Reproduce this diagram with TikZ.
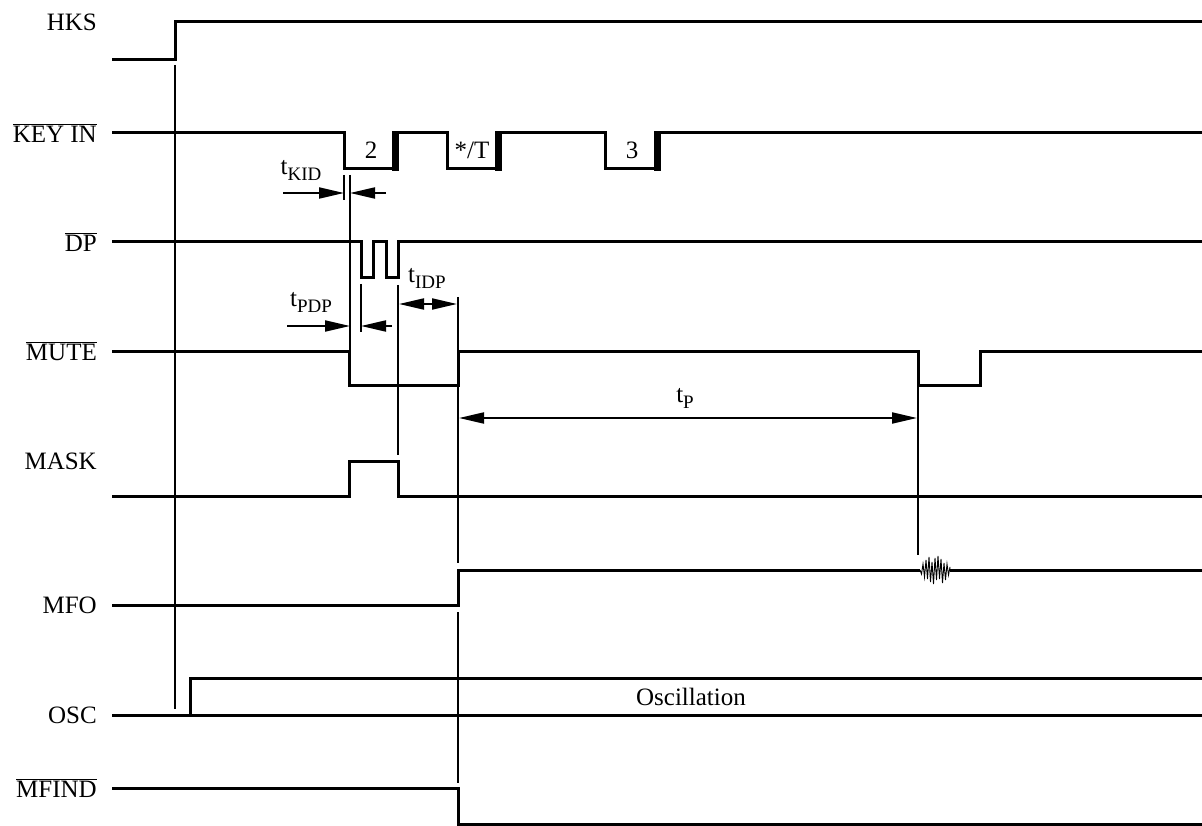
\documentclass[tikz,border=0pt]{standalone}
\usepackage{fontspec}
\setmainfont{Liberation Serif}
\usetikzlibrary{arrows.meta}

\newcommand{\ovl}[1]{$\overline{\mbox{#1}}$}
\newcommand{\tsub}[1]{t\raisebox{-6pt}{\fontsize{19pt}{20pt}\selectfont #1}}

\begin{document}
\begin{tikzpicture}[x=1pt,y=-1pt,>={Triangle[length=25pt,width=11pt]},
  font=\fontsize{25pt}{30pt}\selectfont,
  signal/.style={line width=3pt,line join=miter},
  guide/.style={line width=2pt},
  sig/.style={anchor=east,inner sep=0pt}]

\useasboundingbox (0,0) rectangle (1202,826);

% signal names
\node[sig] (lblHKS) at (97,22) {HKS};
\node[sig] (lblKEY) at (97,133) {\ovl{KEY IN}};
\node[sig] (lblDP) at (97,242) {\ovl{DP}};
\node[sig] (lblMUTE) at (97,351) {\ovl{MUTE}};
\node[sig] (lblMASK) at (97,461) {MASK};
\node[sig] (lblMFO) at (97,605) {MFO};
\node[sig] (lblOSC) at (97,715) {OSC};
\node[sig] (lblMFIND) at (97,788) {\ovl{MFIND}};

% waveforms
\draw[signal] (112,60) -- (175,60) -- (175,22) -- (1202,22);
\draw[signal] (112,133) -- (344,133) -- (344,169) -- (396,169) -- (396,133)
  -- (447,133) -- (447,169) -- (499,169) -- (499,133)
  -- (605,133) -- (605,169) -- (658,169) -- (658,133) -- (1202,133);
\foreach \k in {396,499,658}
  \fill (\k-4,131) rectangle (\k+3,171);
\node (key2) at (371,150) {2};
\node (keyT) at (472,150) {*/T};
\node (key3) at (632,150) {3};

\draw[signal] (112,242) -- (361,242) -- (361,278) -- (373,278) -- (373,242)
  -- (386,242) -- (386,278) -- (398,278) -- (398,242) -- (1202,242);
\draw[signal] (112,351) -- (349,351) -- (349,385) -- (458,385) -- (458,351)
  -- (918,351) -- (918,385) -- (980,385) -- (980,351) -- (1202,351);
\draw[signal] (112,496) -- (349,496) -- (349,461) -- (398,461) -- (398,496) -- (1202,496);
\draw[signal] (112,605) -- (458,605) -- (458,570) -- (920,570);
\draw[signal] (950,570) -- (1202,570);
\draw[line width=0.9pt] (920,570) \foreach \dx/\dy in {1.5/4,3/-6,4.5/7,6/-10,7.5/9,9/-13,10.5/12,12/-8,13.5/14,15/-12,16.5/10,18/-14,19.5/9,21/-11,22.5/13,24/-7,25.5/10,27/-6,28.5/5,30/-3} { -- (920+\dx,570+\dy) } -- (950,570);
\draw[signal] (112,715) -- (1202,715);
\draw[signal] (190,715) -- (190,678) -- (1202,678);
\node (osc) at (691,697) {Oscillation};
\draw[signal] (112,788) -- (458,788) -- (458,824) -- (1202,824);

% guide lines
\draw[guide] (175,65) -- (175,709);
\draw[guide] (344,175) -- (344,200);
\draw[guide] (350,175) -- (350,351);
\draw[guide] (361,284) -- (361,332);
\draw[guide] (398,285) -- (398,455);
\draw[guide] (458,297) -- (458,563);
\draw[guide] (458,612) -- (458,783);
\draw[guide] (918,385) -- (918,555);

% timings
\coordinate (kidL) at (344,193);
\coordinate (kidR) at (350,193);
\draw[guide,->] (283,193) -- (kidL);
\draw[guide,->] (386,193) -- (kidR);
\node (tKID) at (301,170) {\tsub{KID}};

\coordinate (pdpL) at (350,326);
\coordinate (pdpR) at (361,326);
\draw[guide,->] (287,326) -- (pdpL);
\draw[guide,->] (392,326) -- (pdpR);
\node (tPDP) at (311,302) {\tsub{PDP}};

\coordinate (idpL) at (399,304);
\coordinate (idpR) at (457,304);
\draw[guide,<->] (idpL) -- (idpR);
\node (tIDP) at (427,278) {\tsub{IDP}};

\coordinate (pL) at (459,418);
\coordinate (pR) at (917,418);
\draw[guide,<->] (pL) -- (pR);
\node (tP) at (685,398) {\tsub{P}};

\end{tikzpicture}
\end{document}
